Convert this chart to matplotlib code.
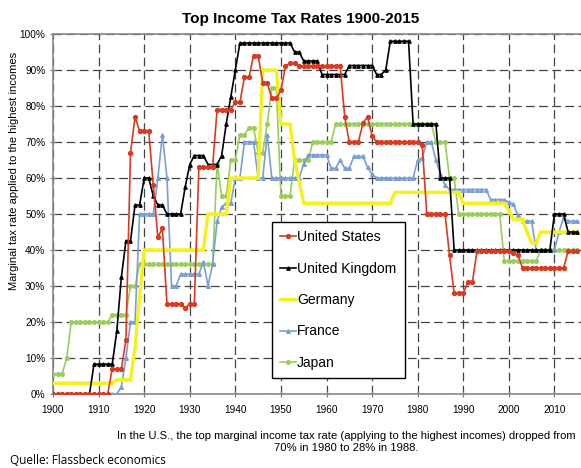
import matplotlib
matplotlib.use("Agg")
import matplotlib.pyplot as plt
from matplotlib.ticker import FuncFormatter

plt.rcParams['font.family'] = ['Liberation Sans', 'DejaVu Sans']

years = list(range(1900, 2016))

# top marginal income tax rates, % (one value per year 1900-2015)
united_states = [
    0, 0, 0, 0, 0, 0, 0, 0, 0, 0,
    0, 0, 0, 7, 7, 7, 15, 67, 77, 73,
    73, 73, 58, 43.5, 46, 25, 25, 25, 25, 24,
    25, 25, 63, 63, 63, 63, 79, 79, 79, 79,
    81.1, 81, 88, 88, 94, 94, 86.5, 86.5, 82.1, 82.1,
    84.4, 91, 92, 92, 91, 91, 91, 91, 91, 91,
    91, 91, 91, 91, 77, 70, 70, 70, 75.25, 77,
    71.75, 70, 70, 70, 70, 70, 70, 70, 70, 70,
    70, 69.1, 50, 50, 50, 50, 50, 38.5, 28, 28,
    28, 31, 31, 39.6, 39.6, 39.6, 39.6, 39.6, 39.6, 39.6,
    39.6, 39.1, 38.6, 35, 35, 35, 35, 35, 35, 35,
    35, 35, 35, 39.6, 39.6, 39.6,
]
united_kingdom = [
    0, 0, 0, 0, 0, 0, 0, 0, 0, 8.3,
    8.3, 8.3, 8.3, 8.3, 17.5, 32.5, 42.5, 42.5, 52.5, 52.5,
    60, 60, 55, 52.5, 52.5, 50, 50, 50, 50, 57.5,
    63.75, 66.25, 66.25, 66.25, 63.75, 63.75, 63.75, 66.25, 75, 82.5,
    90, 97.5, 97.5, 97.5, 97.5, 97.5, 97.5, 97.5, 97.5, 97.5,
    97.5, 97.5, 97.5, 95, 95, 92.5, 92.5, 92.5, 92.5, 88.75,
    88.75, 88.75, 88.75, 88.75, 88.75, 91.25, 91.25, 91.25, 91.25, 91.25,
    91.25, 88.75, 88.75, 90, 98, 98, 98, 98, 98, 75,
    75, 75, 75, 75, 75, 60, 60, 60, 40, 40,
    40, 40, 40, 40, 40, 40, 40, 40, 40, 40,
    40, 40, 40, 40, 40, 40, 40, 40, 40, 40,
    50, 50, 50, 45, 45, 45,
]
germany = [
    3, 3, 3, 3, 3, 3, 3, 3, 3, 3,
    3, 3, 3, 3, 4, 4, 4, 4, 13, 27,
    40, 40, 40, 40, 40, 40, 40, 40, 40, 40,
    40, 40, 40, 40, 50, 50, 50, 50, 50, 60,
    60, 60, 60, 60, 60, 60, 90, 90, 90, 90,
    75, 75, 75, 65, 59, 53, 53, 53, 53, 53,
    53, 53, 53, 53, 53, 53, 53, 53, 53, 53,
    53, 53, 53, 53, 53, 56, 56, 56, 56, 56,
    56, 56, 56, 56, 56, 56, 56, 56, 56, 56,
    53, 53, 53, 53, 53, 53, 53, 53, 53, 53,
    51, 48.5, 48.5, 48.5, 45, 42, 42, 45, 45, 45,
    45, 45, 45, 45, 45, 45,
]
france = [
    0, 0, 0, 0, 0, 0, 0, 0, 0, 0,
    0, 0, 0, 0, 0, 2, 10, 20, 20, 50,
    50, 50, 50, 60, 72, 60, 30, 30, 33.3, 33.3,
    33.3, 33.3, 33.3, 36.75, 30, 36, 48, 52, 53, 53,
    60, 60, 70, 70, 70, 60, 60, 72, 60, 60,
    60, 60, 60, 60, 60, 64, 66.4, 66.4, 66.4, 66.4,
    66.4, 62.7, 62.7, 65, 62.7, 62.7, 66, 66, 66, 63,
    61, 60, 60, 60, 60, 60, 60, 60, 60, 60,
    65, 65.6, 70, 70, 65, 61, 58, 56.8, 56.8, 56.8,
    56.8, 56.8, 56.8, 56.8, 56.8, 56.8, 54, 54, 54, 54,
    53.25, 52.75, 49.6, 48, 48, 48, 40, 40, 40, 40,
    40, 45, 49, 48, 48, 48,
]
japan = [
    5.5, 5.5, 5.5, 10, 20, 20, 20, 20, 20, 20,
    20, 20, 20, 22, 22, 22, 22, 30, 30, 36,
    36, 36, 36, 36, 36, 36, 36, 36, 36, 36,
    36, 36, 36, 36, 36, 36, 64, 55, 55, 65,
    65, 72, 72, 74, 74, 67, 67, 75, 85, 85,
    55, 55, 55, 65, 65, 65, 65, 70, 70, 70,
    70, 70, 75, 75, 75, 75, 75, 75, 75, 75,
    75, 75, 75, 75, 75, 75, 75, 75, 75, 75,
    75, 75, 75, 75, 70, 70, 70, 60, 60, 50,
    50, 50, 50, 50, 50, 50, 50, 50, 50, 37,
    37, 37, 37, 37, 37, 37, 37, 40, 40, 40,
    40, 40, 40, 40, 40, 40,
]

fig = plt.figure(figsize=(5.81, 4.68), dpi=100)
ax = fig.add_axes([53 / 581, 74 / 468, 547 / 581, 360 / 468])

ax.plot(years, japan, color='#9acd5c', lw=1.2, marker='o', ms=2.6, label='Japan', zorder=3)
ax.plot(years, france, color='#7b9fd2', lw=1.2, marker='^', ms=2.6, label='France', zorder=3)
ax.plot(years, germany, color='#f4f21a', lw=2.4, marker='s', ms=1.5, label='Germany', zorder=4)
ax.plot(years, united_kingdom, color='black', lw=1.2, marker='^', ms=2.4, label='United Kingdom', zorder=5)
ax.plot(years, united_states, color='#d93a22', lw=1.2, marker='o', ms=2.8, label='United States', zorder=6)

ax.set_xlim(1900, 2020)
ax.set_ylim(0, 100)
ax.set_xticks(range(1900, 2020, 10))
ax.set_yticks(range(0, 101, 10))
ax.yaxis.set_major_formatter(FuncFormatter(lambda v, p: f'{v:.0f}%'))
ax.tick_params(labelsize=7.2, length=4, direction='inout', color='#777')
ax.tick_params(axis='x', pad=6)
ax.grid(True, color='#444', lw=0.9, linestyle=(0, (7, 3.5)), zorder=1)
for side in ['top', 'left', 'bottom', 'right']:
    ax.spines[side].set_color('#888')
    ax.spines[side].set_linewidth(1.2)

order = ['United States', 'United Kingdom', 'Germany', 'France', 'Japan']
handles, labels = ax.get_legend_handles_labels()
hmap = dict(zip(labels, handles))
leg = fig.legend([hmap[k] for k in order], order, loc='upper left',
                 bbox_to_anchor=(272 / 581, 1 - 222 / 468), fontsize=10,
                 frameon=True, fancybox=False, edgecolor='black', framealpha=1,
                 handlelength=1.1, handletextpad=0.1, labelspacing=1.25,
                 borderpad=0.6, borderaxespad=0)
leg.get_frame().set_linewidth(1.0)
leg.set_zorder(10)

fig.text(0.518, 1 - 19 / 468, 'Top Income Tax Rates 1900-2015', ha='center', va='center',
         fontsize=11, fontweight='bold')
fig.text(14 / 581, 1 - 171 / 468, 'Marginal tax rate applied to the highest incomes',
         rotation=90, ha='center', va='center', fontsize=8)
fig.text(346 / 581, 1 - 442 / 468,
         'In the U.S., the top marginal income tax rate (applying to the highest incomes) dropped from\n'
         '70% in 1980 to 28% in 1988.', ha='center', va='center', fontsize=8.1, linespacing=1.15)
fig.text(10 / 581, 1 - 460 / 468, 'Quelle: Flassbeck economics', ha='left', va='center',
         fontsize=8.5, family=['Open Sans', 'DejaVu Sans'])

fig.savefig('out.png', dpi=100)
